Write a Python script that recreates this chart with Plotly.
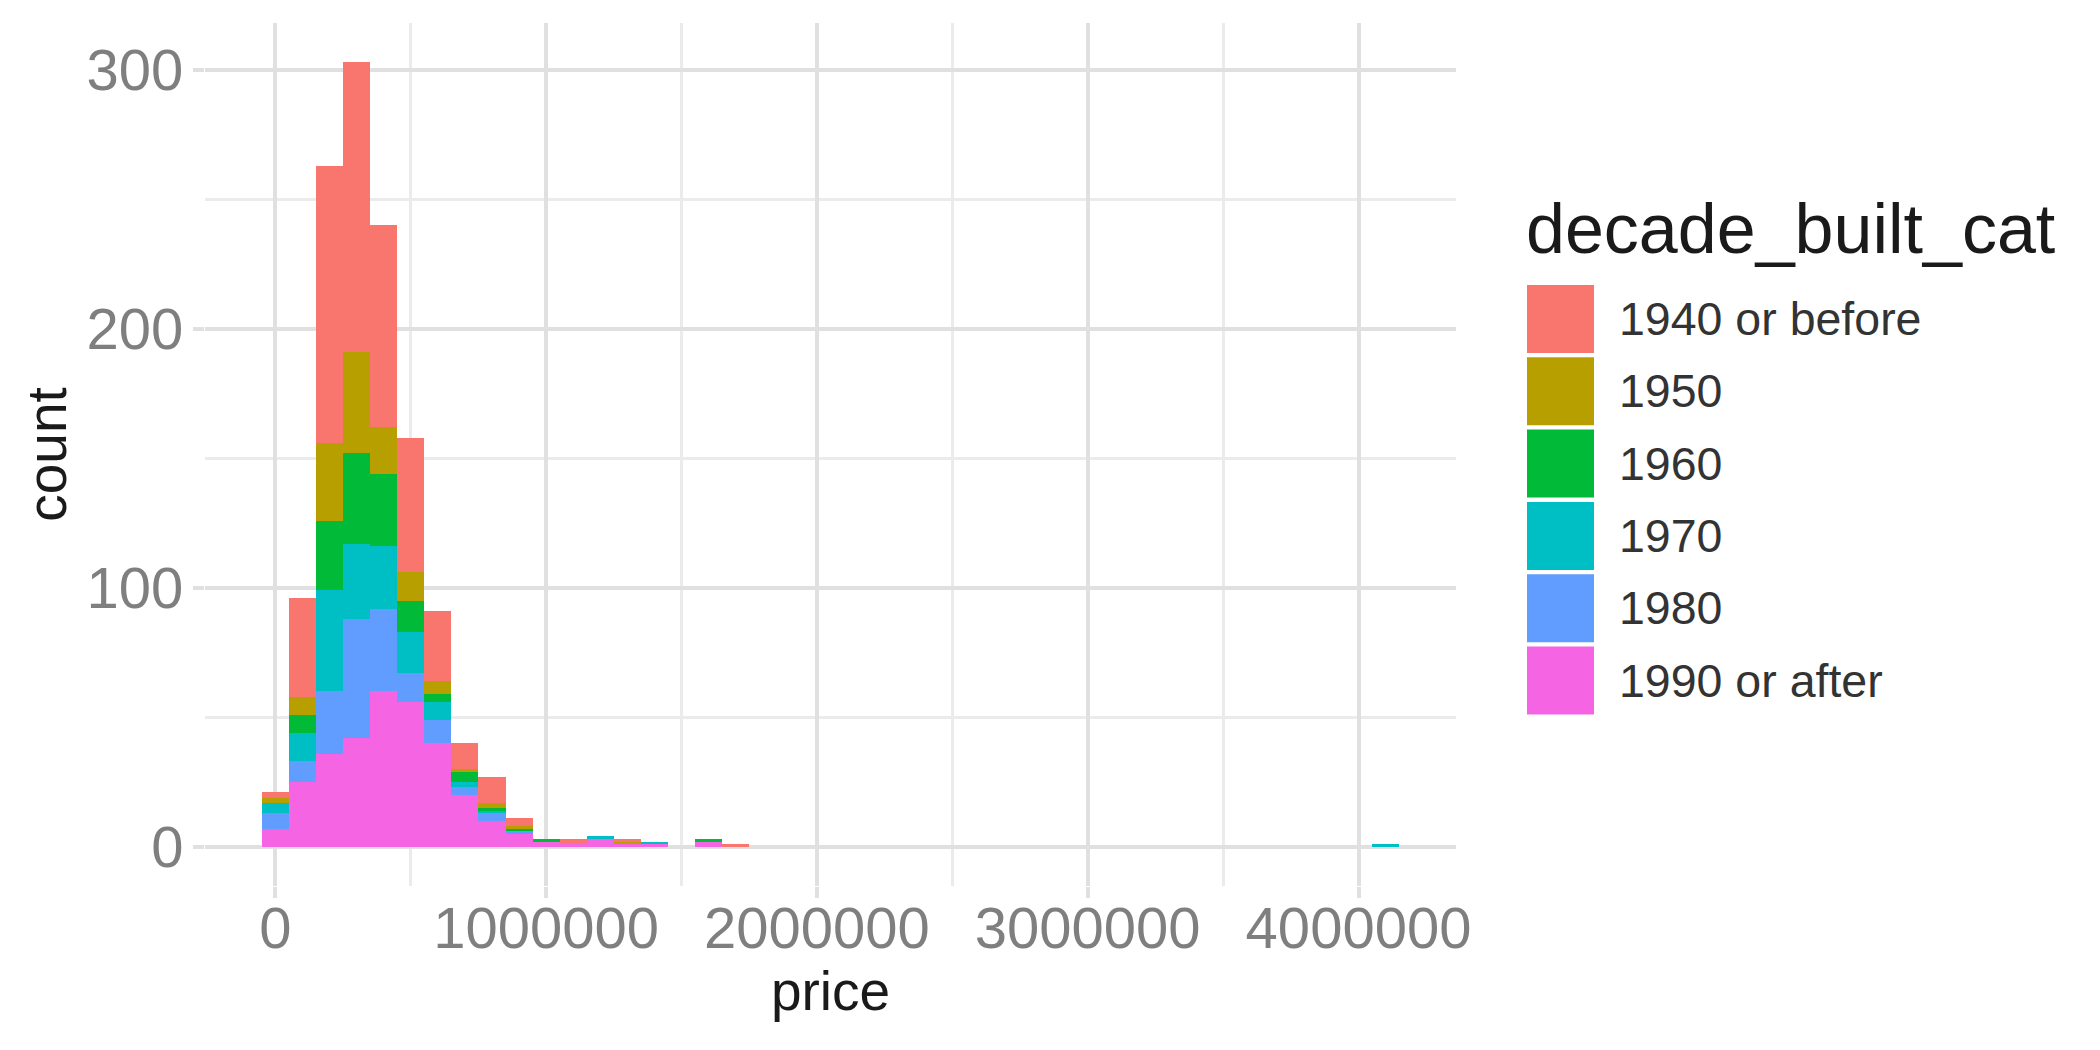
import plotly.graph_objects as go

# ---- data ----
bin_centers = [0, 100000, 200000, 300000, 400000, 500000, 600000, 700000, 800000,
               900000, 1000000, 1100000, 1200000, 1300000, 1400000, 1500000,
               1600000, 1700000, 4100000]
bin_width = 100000

categories = ["1940 or before", "1950", "1960", "1970", "1980", "1990 or after"]
colors = ["#F8766D", "#B79F00", "#00BA38", "#00BFC4", "#619CFF", "#F564E3"]

c1940 = [2, 38, 107, 112, 78, 52, 27, 10, 10, 3, 0, 2, 0, 1, 0, 0, 0, 1, 0]
c1950 = [2, 7, 30, 39, 18, 11, 5, 1, 2, 1, 0, 0, 0, 1, 0, 0, 0, 0, 0]
c1960 = [0, 7, 27, 35, 28, 12, 3, 4, 1, 1, 1, 0, 0, 0, 0, 0, 1, 0, 0]
c1970 = [4, 11, 39, 29, 24, 16, 7, 2, 1, 0, 0, 0, 1, 0, 1, 0, 0, 0, 1]
c1980 = [6, 8, 24, 46, 32, 11, 9, 3, 3, 1, 0, 0, 0, 0, 0, 0, 0, 0, 0]
c1990 = [7, 25, 36, 42, 60, 56, 40, 20, 10, 5, 2, 1, 3, 1, 1, 0, 2, 0, 0]
series = [c1940, c1950, c1960, c1970, c1980, c1990]

x_ticks = [0, 1000000, 2000000, 3000000, 4000000]
x_ticklabels = ["0", "1000000", "2000000", "3000000", "4000000"]
y_ticks = [0, 100, 200, 300]

# ---- layout constants (page pixels) ----
OFF = 8  # default body margin of the html page
W, H = 2100 - OFF, 1050 - OFF
PL, PR, PT, PB = 205, 1456, 23, 886
FONT = "Liberation Sans"
GRID = "#E0E0E0"
MINOR = "#EBEBEB"


def px(xp):
    return (xp - PL) / (PR - PL)


def py(yp):
    return (PB - yp) / (PB - PT)


fig = go.Figure()
# bottom of stack first
for name, col, vals in reversed(list(zip(categories, colors, series))):
    fig.add_trace(go.Bar(
        x=bin_centers, y=vals, width=bin_width, name=name,
        marker=dict(color=col, line=dict(width=0)),
        showlegend=False,
    ))

axis_common = dict(
    showline=False, zeroline=False, ticks="outside", ticklen=11,
    tickcolor=GRID, tickwidth=3.5, showgrid=True, gridcolor=GRID, gridwidth=3.5,
    tickfont=dict(family=FONT, size=58, color="#7F7F7F"),
)

fig.update_layout(
    width=W, height=H,
    margin=dict(l=PL - OFF, r=2100 - PR, t=PT - OFF, b=1050 - PB, autoexpand=False),
    paper_bgcolor="white", plot_bgcolor="white",
    barmode="stack",
    xaxis=dict(
        range=[-260000, 4360000], tickvals=x_ticks, ticktext=x_ticklabels,
        minor=dict(tickvals=[500000, 1500000, 2500000, 3500000], showgrid=True,
                   gridcolor=MINOR, gridwidth=3, ticks=""),
        title=dict(text="price", font=dict(family=FONT, size=55, color="#1A1A1A"), standoff=6),
        automargin=False, ticklabelstandoff=-20,
        **axis_common,
    ),
    yaxis=dict(
        range=[-15.15, 318.15], tickvals=y_ticks,
        minor=dict(tickvals=[50, 150, 250], showgrid=True,
                   gridcolor=MINOR, gridwidth=3, ticks=""),
        title=dict(text="count", font=dict(family=FONT, size=55, color="#1A1A1A"), standoff=2),
        automargin=False, ticklabelstandoff=-2,
        **axis_common,
    ),
)

# ---- legend drawn as shapes + text ----
fig.add_annotation(
    x=px(1524), y=py(229), xref="paper", yref="paper", xanchor="left", yanchor="middle",
    text="decade_built_cat", showarrow=False,
    font=dict(family=FONT, size=70, color="#1A1A1A"),
)
key_top0, pitch, key_h, key_w = 285, 72.3, 68, 67
for i, (name, col) in enumerate(zip(categories, colors)):
    top = key_top0 + i * pitch
    fig.add_shape(type="rect", xref="paper", yref="paper",
                  x0=px(1527), x1=px(1527 + key_w), y0=py(top), y1=py(top + key_h),
                  fillcolor=col, line=dict(width=0))
    fig.add_annotation(
        x=px(1617), y=py(top + key_h / 2), xref="paper", yref="paper",
        xanchor="left", yanchor="middle", text=name, showarrow=False,
        font=dict(family=FONT, size=46.5, color="#333333"),
    )

fig.write_html("out.html")
